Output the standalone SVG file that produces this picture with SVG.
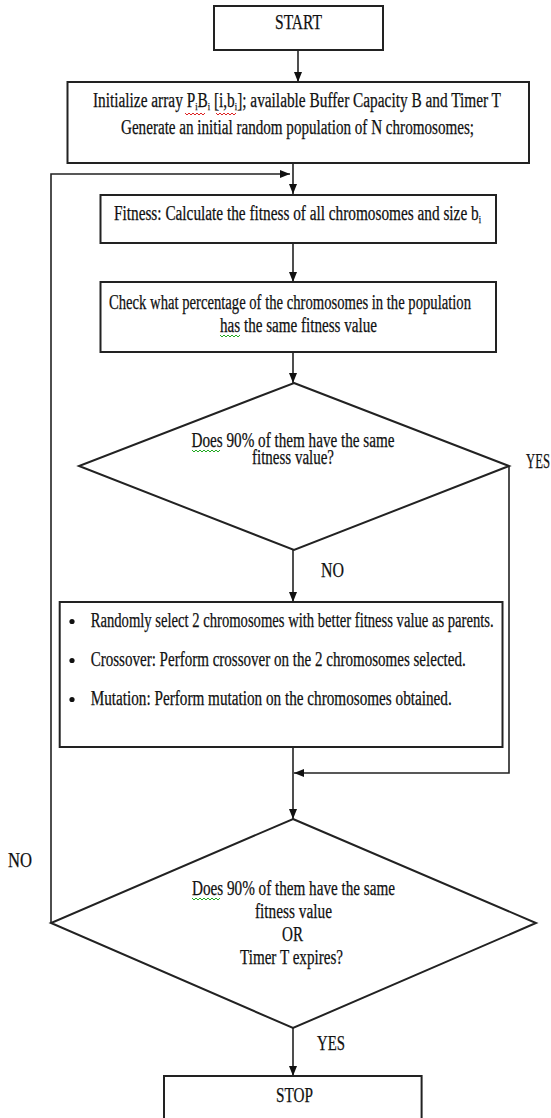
<svg xmlns="http://www.w3.org/2000/svg" width="551" height="1118" viewBox="0 0 551 1118">
<style>
.box{fill:#fff;stroke:#222;stroke-width:2}
.dia{fill:#fff;stroke:#222;stroke-width:2}
.con{fill:none;stroke:#222;stroke-width:1.6}
.arr{marker-end:url(#ah)}
text{font-family:"Liberation Serif","Times New Roman",serif;font-size:20px;fill:#111;stroke:#111;stroke-width:0.25}
.sub{font-size:11px}
.sq{fill:none;stroke-width:1}
.red{stroke:#d22}
.grn{stroke:#2a2}
</style>
<defs>
<marker id="ah" markerUnits="userSpaceOnUse" markerWidth="10" markerHeight="9" viewBox="0 0 10 9" refX="10" refY="4.5" orient="auto">
<path d="M0,0.5 L10,4.5 L0,8.5 z" fill="#111"/>
</marker>
</defs>
<rect width="551" height="1118" fill="#fff"/>
<g id="connectors">
<path class="con arr" d="M298,50 V82"/>
<path class="con arr" d="M293,163 V194"/>
<path class="con arr" d="M51,923 V174 H290"/>
<path class="con arr" d="M293,243 V282"/>
<path class="con arr" d="M293,352 V383"/>
<path class="con arr" d="M293,550 V602"/>
<path class="con arr" d="M509,466 V773 H294"/>
<path class="con arr" d="M293,747 V819"/>
<path class="con arr" d="M293,1028 V1076"/>
<text x="321" y="577" textLength="23" lengthAdjust="spacingAndGlyphs">NO</text>
<text x="526" y="468" textLength="24" lengthAdjust="spacingAndGlyphs">YES</text>
<text x="8" y="867" textLength="24" lengthAdjust="spacingAndGlyphs">NO</text>
<text x="317" y="1050" textLength="28" lengthAdjust="spacingAndGlyphs">YES</text>
</g>
<g id="start">
<rect class="box" x="214" y="6" width="169" height="44"/>
<text x="275" y="29" textLength="47" lengthAdjust="spacingAndGlyphs">START</text>
</g>
<g id="init">
<rect class="box" x="67.5" y="82" width="461.5" height="81"/>
<text x="93" y="107" textLength="408" lengthAdjust="spacingAndGlyphs">Initialize array P<tspan class="sub" dy="3">i</tspan><tspan dy="-3">B</tspan><tspan class="sub" dy="3">i</tspan><tspan dy="-3"> [i,b</tspan><tspan class="sub" dy="3">i</tspan><tspan dy="-3">]; available Buffer Capacity  B and Timer T</tspan></text>
<text x="121" y="134" textLength="353" lengthAdjust="spacingAndGlyphs">Generate an initial random population of N chromosomes;</text>
<path class="sq red" d="M185,113 l2,2 l2,-2 l2,2 l2,-2 l2,2 l2,-2 l2,2 l2,-2 l2,2 l2,-2"/>
<path class="sq red" d="M216,113 l2,2 l2,-2 l2,2 l2,-2 l2,2 l2,-2 l2,2 l2,-2 l2,2 l2,-2"/>
</g>
<g id="fitness">
<rect class="box" x="100.5" y="195" width="395.5" height="48"/>
<text x="114" y="220" textLength="367" lengthAdjust="spacingAndGlyphs">Fitness: Calculate the fitness of all chromosomes and size b<tspan class="sub" dy="3">i</tspan></text>
</g>
<g id="check">
<rect class="box" x="100.5" y="282" width="395.5" height="70"/>
<text x="109" y="309" textLength="362" lengthAdjust="spacingAndGlyphs">Check what percentage of the chromosomes in the population</text>
<text x="220" y="332" textLength="157" lengthAdjust="spacingAndGlyphs">has the same fitness value</text>
<path class="sq grn" d="M220,335 l2,2 l2,-2 l2,2 l2,-2 l2,2 l2,-2 l2,2 l2,-2 l2,2 l2,-2"/>
</g>
<g id="decision1">
<polygon class="dia" points="294,383 509,466 294,550 79,466"/>
<text x="191.5" y="447" textLength="203" lengthAdjust="spacingAndGlyphs">Does 90% of them have the same</text>
<text x="252" y="464" textLength="82" lengthAdjust="spacingAndGlyphs">fitness value?</text>
<path class="sq grn" d="M192,450 l2,2 l2,-2 l2,2 l2,-2 l2,2 l2,-2 l2,2 l2,-2 l2,2 l2,-2 l2,2 l2,-2 l2,2 l2,-2"/>
</g>
<g id="process">
<rect class="box" x="59.7" y="602" width="442.8" height="145"/>
<circle cx="72" cy="621.5" r="2.6" fill="#111"/>
<circle cx="72" cy="660.5" r="2.6" fill="#111"/>
<circle cx="72" cy="699.5" r="2.6" fill="#111"/>
<text x="90.7" y="627" textLength="403" lengthAdjust="spacingAndGlyphs">Randomly select 2 chromosomes with better fitness value as parents.</text>
<text x="90.7" y="666" textLength="375" lengthAdjust="spacingAndGlyphs">Crossover: Perform crossover on the 2 chromosomes selected.</text>
<text x="90.7" y="705" textLength="361" lengthAdjust="spacingAndGlyphs">Mutation: Perform mutation on the chromosomes obtained.</text>
</g>
<g id="decision2">
<polygon class="dia" points="293,819 536,923 293,1028 51,923"/>
<text x="192" y="895" textLength="203" lengthAdjust="spacingAndGlyphs">Does 90% of them have the same</text>
<text x="255" y="918" textLength="77" lengthAdjust="spacingAndGlyphs">fitness value</text>
<text x="282" y="941" textLength="21" lengthAdjust="spacingAndGlyphs">OR</text>
<text x="240" y="964" textLength="103" lengthAdjust="spacingAndGlyphs">Timer T expires?</text>
<path class="sq grn" d="M192,898 l2,2 l2,-2 l2,2 l2,-2 l2,2 l2,-2 l2,2 l2,-2 l2,2 l2,-2 l2,2 l2,-2 l2,2 l2,-2"/>
</g>
<g id="stop">
<rect class="box" x="164" y="1076" width="257.6" height="50"/>
<text x="276" y="1102" textLength="37" lengthAdjust="spacingAndGlyphs">STOP</text>
</g>
</svg>
